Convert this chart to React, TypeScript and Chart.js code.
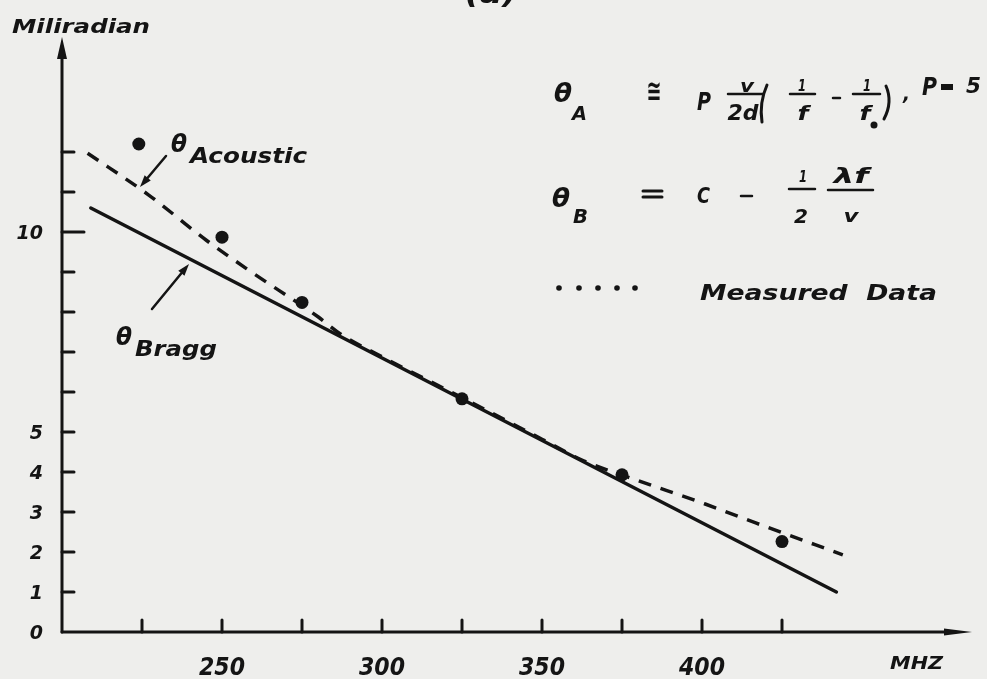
import React, { useEffect, useRef } from "react";
import { Chart, registerables } from "chart.js";

Chart.register(...registerables);

// ---- axis ranges ----
const xAxisMin = 200;
const xAxisMax = 484.375;
const yAxisMin = 0;
const yAxisMax = 14.875;

// ---- ticks ----
const xTickValues = [225, 250, 275, 300, 325, 350, 375, 400, 425];
const xTickLabels = ["", "250", "", "300", "", "350", "", "400", ""];
const yTickValues = [0, 1, 2, 3, 4, 5, 6, 7, 8, 9, 10, 11, 12];
const yTickLabels = ["0", "1", "2", "3", "4", "5", "", "", "", "", "10", "", ""];

// ---- measured data (MHz, milliradian) ----
const measuredMHz = [224, 250, 275, 325, 375, 425];
const measuredMrad = [12.2, 9.87, 8.24, 5.83, 3.93, 2.26];

// ---- theta Bragg (solid line) ----
const braggMHz = [209, 442];
const braggMrad = [10.6, 1.0];

// ---- theta Acoustic (dashed curve) ----
const acousticMHz = [208, 227, 245, 259, 280, 287, 300, 325, 350, 363, 378, 401, 417, 444];
const acousticMrad = [11.97, 10.93, 9.8, 9.01, 7.88, 7.45, 6.88, 5.86, 4.82, 4.28, 3.84, 3.2, 2.72, 1.93];

const INK = "#141414";
const PAPER = "#eeeeec";
const FAM = '"DejaVu Sans"';

function pts(xs: number[], ys: number[]) {
  return xs.map((x, i) => ({ x, y: ys[i] }));
}

function txt(
  ctx: CanvasRenderingContext2D,
  s: string,
  x: number,
  y: number,
  size: number,
  opts: { align?: "left" | "center" | "right"; baseline?: CanvasTextBaseline; width?: number; weight?: string; italic?: boolean } = {}
) {
  ctx.save();
  ctx.fillStyle = INK;
  ctx.font = `${opts.italic === false ? "" : "italic "}${opts.weight || "bold"} ${size}px ${FAM}`;
  ctx.textBaseline = opts.baseline || "alphabetic";
  const w = ctx.measureText(s).width;
  const target = opts.width || w;
  let sx = x;
  if (opts.align === "center") sx = x - target / 2;
  else if (opts.align === "right") sx = x - target;
  ctx.translate(sx, y);
  ctx.scale(target / w, 1);
  ctx.textAlign = "left";
  ctx.fillText(s, 0, 0);
  ctx.restore();
}

function line(ctx: CanvasRenderingContext2D, x1: number, y1: number, x2: number, y2: number, w: number) {
  ctx.save();
  ctx.strokeStyle = INK;
  ctx.lineWidth = w;
  ctx.lineCap = "round";
  ctx.beginPath();
  ctx.moveTo(x1, y1);
  ctx.lineTo(x2, y2);
  ctx.stroke();
  ctx.restore();
}

function arrow(ctx: CanvasRenderingContext2D, x1: number, y1: number, x2: number, y2: number, w: number, len: number, half: number) {
  const a = Math.atan2(y2 - y1, x2 - x1);
  const bx = x2 - Math.cos(a) * len;
  const by = y2 - Math.sin(a) * len;
  line(ctx, x1, y1, bx, by, w);
  ctx.save();
  ctx.fillStyle = INK;
  ctx.beginPath();
  ctx.moveTo(x2, y2);
  ctx.lineTo(bx + Math.sin(a) * half, by - Math.cos(a) * half);
  ctx.lineTo(bx - Math.sin(a) * half, by + Math.cos(a) * half);
  ctx.closePath();
  ctx.fill();
  ctx.restore();
}

const paperPlugin = {
  id: "paper",
  beforeDraw(chart: any) {
    const ctx = chart.ctx as CanvasRenderingContext2D;
    ctx.save();
    ctx.fillStyle = PAPER;
    ctx.fillRect(0, 0, chart.width, chart.height);
    ctx.restore();
  },
  beforeDatasetsDraw(chart: any) {
    const ctx = chart.ctx as CanvasRenderingContext2D;
    const xs = chart.scales.x;
    const ys = chart.scales.y;
    const x0 = xs.getPixelForValue(xAxisMin);
    const y0 = ys.getPixelForValue(yAxisMin);
    const xEnd = xs.getPixelForValue(xAxisMax);
    const yEnd = ys.getPixelForValue(yAxisMax);

    // axes with arrows
    arrow(ctx, x0, y0, x0, yEnd, 3, 22, 5);
    arrow(ctx, x0, y0, xEnd, y0, 3, 28, 3.5);

    // y ticks + labels
    yTickValues.forEach((v, i) => {
      const py = ys.getPixelForValue(v);
      if (v > 0) line(ctx, x0, py, x0 + (v === 10 ? 22 : 12), py, 3);
      if (yTickLabels[i]) txt(ctx, yTickLabels[i], 43, py + 7, 19, { align: "right" });
    });

    // x ticks + labels
    xTickValues.forEach((v, i) => {
      const px = xs.getPixelForValue(v);
      line(ctx, px, y0, px, y0 - 12, 3);
      if (xTickLabels[i]) txt(ctx, xTickLabels[i], px, 675, 24, { align: "center", width: 46 });
    });

    // axis titles
    txt(ctx, "Miliradian", 12, 33, 20, { width: 138 });
    txt(ctx, "MHZ", 890, 669, 18, { width: 53 });
    // panel label (cut off at top)
    txt(ctx, "(a)", 491, 3, 26, { align: "center", width: 52 });
  },
  afterDraw(chart: any) {
    const ctx = chart.ctx as CanvasRenderingContext2D;

    // θ Acoustic annotation
    txt(ctx, "θ", 171, 152, 25, { width: 16 });
    txt(ctx, "Acoustic", 190, 163, 21, { width: 117 });
    arrow(ctx, 166, 156, 140, 187, 2.5, 12, 4);

    // θ Bragg annotation
    txt(ctx, "θ", 116, 345, 25, { width: 16 });
    txt(ctx, "Bragg", 135, 356, 21, { width: 82 });
    arrow(ctx, 152, 309, 189, 264, 2.5, 12, 4);

    // Formula θA
    txt(ctx, "θ", 554, 102, 27, { width: 18 });
    txt(ctx, "A", 572, 120, 19, { width: 15 });
    txt(ctx, "≅", 654, 101, 30, { align: "center", width: 15, weight: "bold", italic: false });
    txt(ctx, "P", 697, 110, 24, { width: 14 });
    txt(ctx, "v", 747, 92, 18, { align: "center", width: 14 });
    line(ctx, 728, 94, 763, 94, 2.5);
    txt(ctx, "2d", 743, 120, 21, { align: "center", width: 31 });
    // parens
    ctx.save();
    ctx.strokeStyle = INK;
    ctx.lineWidth = 3;
    ctx.lineCap = "round";
    ctx.beginPath();
    ctx.moveTo(767, 85);
    ctx.quadraticCurveTo(759, 103, 762, 122);
    ctx.stroke();
    ctx.beginPath();
    ctx.moveTo(886, 86);
    ctx.quadraticCurveTo(893, 102, 884, 119);
    ctx.stroke();
    ctx.restore();
    txt(ctx, "1", 802, 91, 15, { align: "center", width: 8 });
    line(ctx, 790, 94, 815, 94, 2.5);
    txt(ctx, "f", 803, 120, 20, { align: "center", width: 11 });
    line(ctx, 833, 98, 840, 98, 2.5);
    txt(ctx, "1", 867, 91, 15, { align: "center", width: 8 });
    line(ctx, 853, 94, 880, 94, 2.5);
    txt(ctx, "f", 865, 120, 20, { align: "center", width: 11 });
    ctx.save();
    ctx.fillStyle = INK;
    ctx.beginPath();
    ctx.arc(874, 125, 3.5, 0, Math.PI * 2);
    ctx.fill();
    ctx.restore();
    txt(ctx, ",", 903, 100, 20, { width: 7 });
    txt(ctx, "P", 922, 95, 24, { width: 15 });
    ctx.save();
    ctx.fillStyle = INK;
    ctx.fillRect(941, 84, 12, 6);
    ctx.restore();
    txt(ctx, "5", 966, 93, 21, { width: 15 });

    // Formula θB
    txt(ctx, "θ", 552, 207, 27, { width: 18 });
    txt(ctx, "B", 573, 223, 19, { width: 15 });
    line(ctx, 643, 191, 662, 191, 3);
    line(ctx, 643, 197, 662, 197, 3);
    txt(ctx, "C", 697, 203, 21, { width: 13 });
    line(ctx, 741, 196, 752, 196, 2.5);
    txt(ctx, "1", 803, 182, 15, { align: "center", width: 8 });
    line(ctx, 789, 189, 815, 189, 2.5);
    txt(ctx, "2", 801, 223, 20, { align: "center", width: 14 });
    txt(ctx, "λf", 851, 183, 22, { align: "center", width: 35 });
    line(ctx, 828, 190, 873, 190, 2.5);
    txt(ctx, "v", 851, 222, 18, { align: "center", width: 15 });

    // Measured data legend
    ctx.save();
    ctx.fillStyle = INK;
    [559, 579, 598, 617, 635].forEach((cx) => {
      ctx.beginPath();
      ctx.arc(cx, 288, 2.8, 0, Math.PI * 2);
      ctx.fill();
    });
    ctx.restore();
    txt(ctx, "Measured  Data", 700, 300, 22, { width: 237 });
  },
};

export default function App() {
  const ref = useRef<HTMLCanvasElement | null>(null);

  useEffect(() => {
    document.body.style.margin = "0";
    const canvas = ref.current!;
    const chart = new Chart(canvas, {
      type: "scatter",
      data: {
        datasets: [
          {
            label: "θ Bragg",
            data: pts(braggMHz, braggMrad),
            showLine: true,
            borderColor: INK,
            borderWidth: 3.5,
            pointRadius: 0,
            borderCapStyle: "round",
          },
          {
            label: "θ Acoustic",
            data: pts(acousticMHz, acousticMrad),
            showLine: true,
            borderColor: INK,
            borderWidth: 3.5,
            borderDash: [13, 10],
            pointRadius: 0,
            cubicInterpolationMode: "monotone",
          },
          {
            label: "Measured Data",
            data: pts(measuredMHz, measuredMrad),
            showLine: false,
            backgroundColor: INK,
            borderColor: INK,
            borderWidth: 0,
            pointRadius: 6.5,
          },
        ],
      },
      options: {
        animation: false,
        responsive: false,
        devicePixelRatio: 1,
        layout: { padding: { left: 62, right: 15, top: 37, bottom: 47 } },
        plugins: { legend: { display: false }, tooltip: { enabled: false } },
        scales: {
          x: { type: "linear", min: xAxisMin, max: xAxisMax, display: false },
          y: { type: "linear", min: yAxisMin, max: yAxisMax, display: false },
        },
      },
      plugins: [paperPlugin],
    } as any);
    return () => chart.destroy();
  }, []);

  return (
    <div style={{ width: 987, height: 679 }}>
      <canvas ref={ref} width={987} height={679} style={{ display: "block" }} />
    </div>
  );
}
